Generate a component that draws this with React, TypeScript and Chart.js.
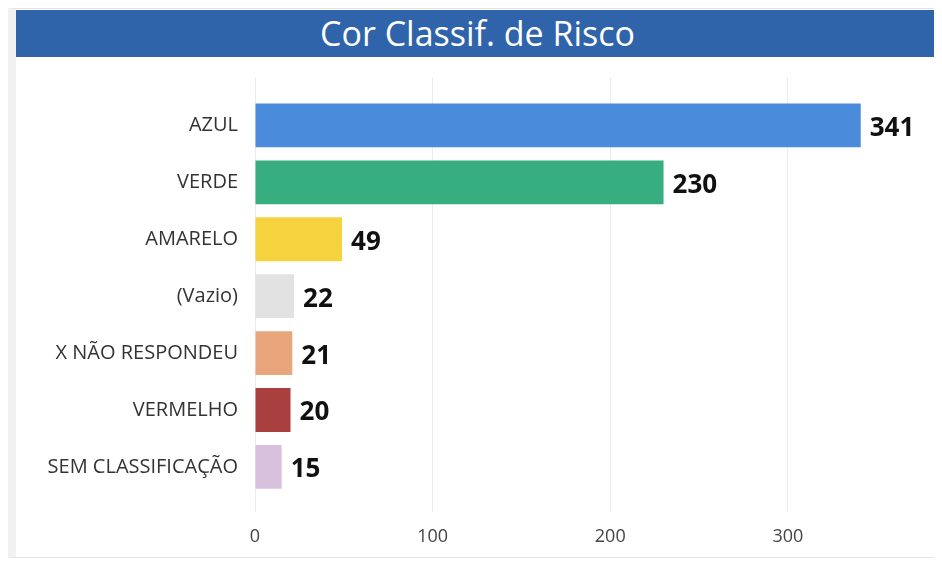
import React, { useEffect, useRef } from "react";
import { Chart, registerables } from "chart.js";

Chart.register(...registerables);

const title = "Cor Classif. de Risco";
const categories = [
  "AZUL",
  "VERDE",
  "AMARELO",
  "(Vazio)",
  "X NÃO RESPONDEU",
  "VERMELHO",
  "SEM CLASSIFICAÇÃO",
];
const values = [341, 230, 49, 22, 21, 20, 15];
const barColors = [
  "#4a8bdb",
  "#36ae80",
  "#f6d23f",
  "#e2e2e2",
  "#e9a67d",
  "#a9403f",
  "#d7c1dc",
];
const xTicks = [0, 100, 200, 300];
const xMax = 380;

const FONT = "'Open Sans', 'Noto Sans', sans-serif";
const GRID = "#ebebeb";

const valueLabels = {
  id: "valueLabels",
  afterDatasetsDraw(chart: any) {
    const ctx = chart.ctx;
    const meta = chart.getDatasetMeta(0);
    ctx.save();
    ctx.font = `bold 26px ${FONT}`;
    ctx.fillStyle = "#111111";
    ctx.textAlign = "left";
    ctx.textBaseline = "middle";
    meta.data.forEach((bar: any, i: number) => {
      ctx.fillText(String(values[i]), bar.x + 9, bar.y + 3);
    });
    ctx.restore();
  },
};

export default function App() {
  const ref = useRef<HTMLCanvasElement | null>(null);

  useEffect(() => {
    if (!ref.current) return;
    const setTicks = (axis: any) => {
      axis.ticks = xTicks.map((v) => ({ value: v }));
    };
    const chart = new Chart(ref.current, {
      type: "bar",
      data: {
        labels: categories,
        datasets: [
          {
            data: values,
            backgroundColor: barColors,
            borderWidth: 0,
            barPercentage: 0.77,
            categoryPercentage: 1,
          },
        ],
      },
      plugins: [valueLabels],
      options: {
        indexAxis: "y",
        animation: false,
        responsive: true,
        maintainAspectRatio: false,
        layout: { padding: { top: 20, right: 9, bottom: 0, left: 0 } },
        plugins: {
          legend: { display: false },
          tooltip: { enabled: false },
          title: { display: false },
        },
        scales: {
          x: {
            type: "linear",
            position: "bottom",
            min: 0,
            max: xMax,
            afterBuildTicks: setTicks,
            grid: { color: GRID, tickLength: 17, drawTicks: true },
            border: { display: false },
            ticks: {
              color: "#444444",
              font: { family: FONT, size: 18 },
              padding: 14,
            },
          },
          x2: {
            type: "linear",
            position: "top",
            min: 0,
            max: xMax,
            afterBuildTicks: setTicks,
            grid: { color: GRID, tickLength: 20, drawOnChartArea: false, drawTicks: true },
            border: { display: false },
            ticks: { display: false },
          },
          y: {
            grid: { display: false },
            border: { display: false },
            afterFit: (s: any) => {
              s.width = 239;
            },
            ticks: {
              color: "#333333",
              font: { family: FONT, size: 20 },
              padding: 9,
            },
          },
        },
      },
    });
    return () => chart.destroy();
  }, []);

  return (
    <div
      style={{
        position: "relative",
        width: 932,
        height: 550,
        boxSizing: "border-box",
        border: "1px solid #e3e3e3",
        borderLeft: "8px solid #f1f1f1",
        background: "#ffffff",
      }}
    >
      <div
        style={{
          position: "absolute",
          left: 0,
          right: 0,
          top: 1,
          height: 47,
          background: "#2f63aa",
          color: "#ffffff",
          fontFamily: FONT,
          fontSize: 34,
          lineHeight: "47px",
          textAlign: "center",
        }}
      >
        {title}
      </div>
      <div
        style={{
          position: "absolute",
          left: 0,
          top: 48,
          width: 923,
          height: 505,
        }}
      >
        <canvas ref={ref} />
      </div>
    </div>
  );
}
